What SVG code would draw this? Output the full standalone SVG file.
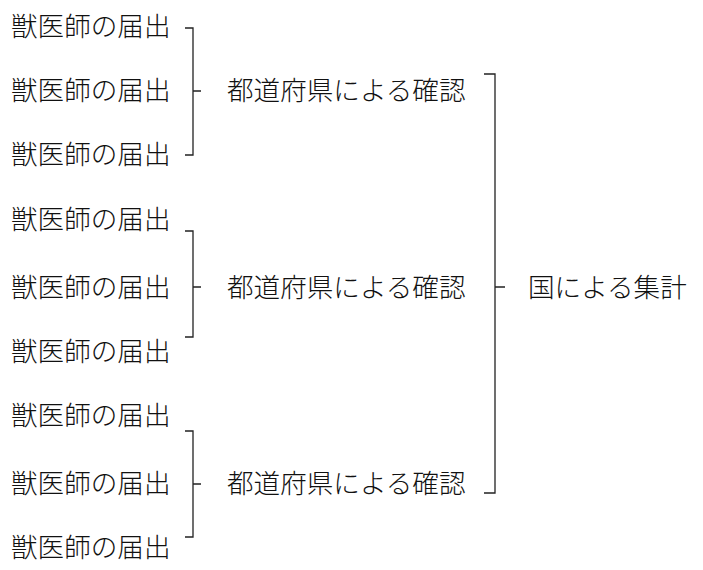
<svg xmlns="http://www.w3.org/2000/svg" width="703" height="570" viewBox="0 0 703 570">
<style>
text{font-family:"Noto Sans CJK JP",sans-serif;font-size:26.6px;font-weight:300;fill:#111}
.b{fill:none;stroke:#222;stroke-width:1.3}
</style>
<rect width="703" height="570" fill="#fff"/>
<g id="vets">
<text x="11" y="36">獣医師の届出</text>
<text x="11" y="100">獣医師の届出</text>
<text x="11" y="164">獣医師の届出</text>
<text x="11" y="229">獣医師の届出</text>
<text x="11" y="297">獣医師の届出</text>
<text x="11" y="361">獣医師の届出</text>
<text x="11" y="425">獣医師の届出</text>
<text x="11" y="493">獣医師の届出</text>
<text x="11" y="557">獣医師の届出</text>
</g>
<g id="pref1"><text x="227" y="100">都道府県による確認</text></g>
<g id="pref2"><text x="227" y="297">都道府県による確認</text></g>
<g id="pref3"><text x="227" y="493">都道府県による確認</text></g>
<g id="nation"><text x="528" y="297">国による集計</text></g>
<g id="connectors">
<path class="b" d="M185,28 H193 V155 H185 M193,91 H201"/>
<path class="b" d="M185,231 H193 V337 H185 M193,287 H201"/>
<path class="b" d="M185,431 H193 V537 H185 M193,484 H201"/>
<path class="b" d="M484,74 H495 V493 H484 M495,287 H505"/>
</g>
</svg>
